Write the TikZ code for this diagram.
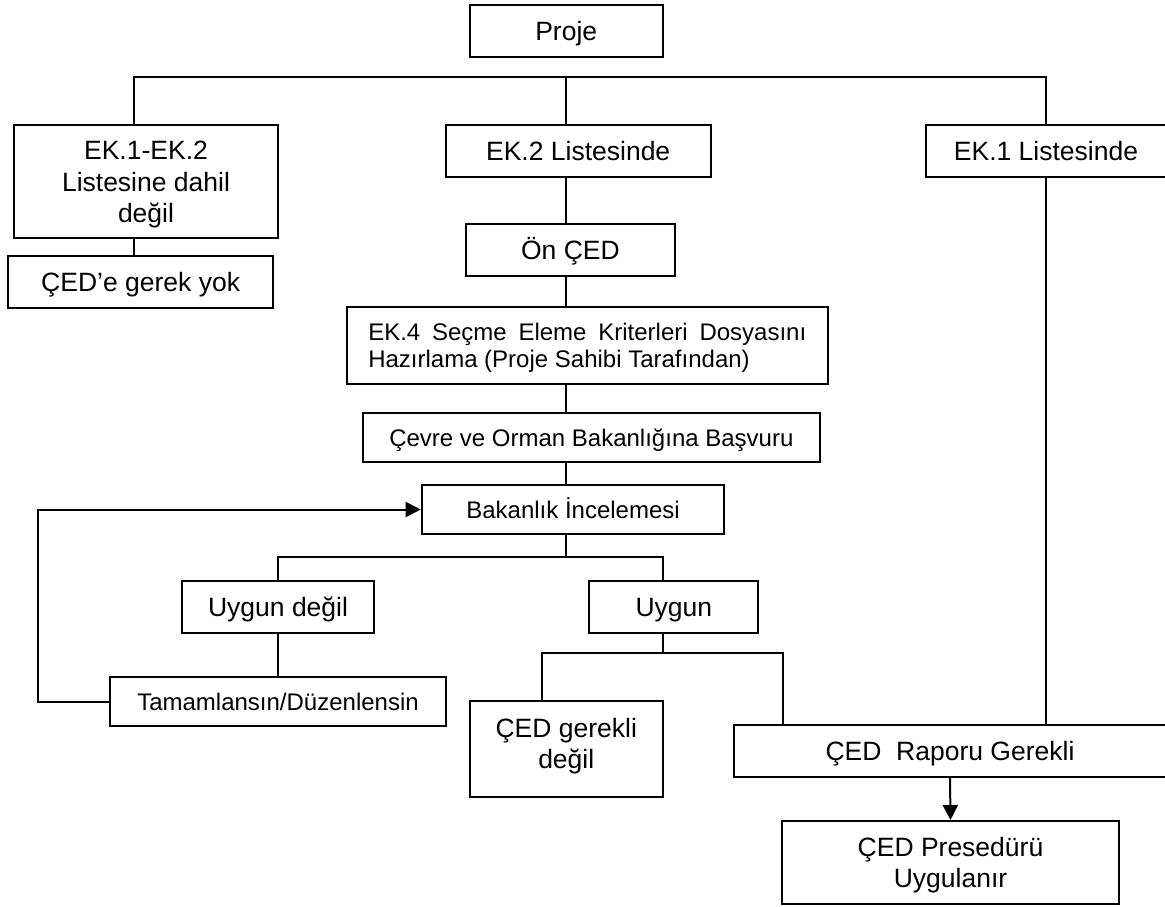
\documentclass[tikz,border=0pt]{standalone}
\usepackage{fontspec}
\setmainfont{Liberation Sans}
\usetikzlibrary{arrows.meta}
\newcommand\flowbig{\fontsize{26.5}{31.5}\selectfont}
\newcommand\flowsmall{\fontsize{24}{27.5}\selectfont}
\begin{document}
\begin{tikzpicture}[x=1pt,y=-1pt,
  stepbox/.style={draw, line width=2pt, inner sep=0pt, align=center, font=\flowbig,
    text height=19pt, text depth=0pt},
  smallbox/.style={stepbox, font=\flowsmall, text height=17.2pt},
  link/.style={line width=2pt},
  arr/.style={link, -{Triangle[length=15pt,width=15pt]}}]
\useasboundingbox (0,0) rectangle (1165,906);

% boxes (centre, width, height in pixels)
\node[stepbox, minimum width=192.5pt, minimum height=52pt] (proje) at (566.25,31) {Proje};
\node[stepbox, minimum width=264.4pt, minimum height=113pt, text height=82pt] (ekdis) at (146,181.5) {EK.1-EK.2\\Listesine dahil\\değil};
\node[stepbox, minimum width=264.5pt, minimum height=52pt] (gerekyok) at (140.65,282) {ÇED’e gerek yok};
\node[stepbox, minimum width=264.8pt, minimum height=52pt] (ek2) at (578.2,151) {EK.2 Listesinde};
\node[stepbox, minimum width=240pt, minimum height=52pt] (ek1) at (1046,151) {EK.1 Listesinde};
\node[stepbox, minimum width=208.7pt, minimum height=52pt] (onced) at (570.45,250) {Ön ÇED};
\node[smallbox, minimum width=481.1pt, minimum height=77pt, text depth=27.5pt] (ek4) at (587.25,345.5)
  {\parbox[t]{438pt}{\flowsmall\tolerance=9999\hyphenpenalty=10000 EK.4 Seçme Eleme Kriterleri Dosyasını Hazırlama (Proje Sahibi Tarafından)}};
\node[smallbox, minimum width=457.1pt, minimum height=49pt] (cevre) at (591.35,437.5) {Çevre ve Orman Bakanlığına Başvuru};
\node[smallbox, minimum width=302.7pt, minimum height=49pt] (bakanlik) at (573.05,509.5) {Bakanlık İncelemesi};
\node[stepbox, minimum width=192.5pt, minimum height=52pt] (uygundegil) at (278.05,607) {Uygun değil};
\node[stepbox, minimum width=169.1pt, minimum height=52pt] (uygun) at (673.85,607) {Uygun};
\node[smallbox, minimum width=336.4pt, minimum height=49pt] (tamam) at (278,701.5) {Tamamlansın/Düzenlensin};
\node[stepbox, minimum width=192.5pt, minimum height=96pt, text height=39pt] (cedgerekli) at (566.25,749) {ÇED gerekli\\değil};
\node[stepbox, minimum width=432.3pt, minimum height=52pt] (rapor) at (950,751) {ÇED\ \ Raporu Gerekli};
\node[stepbox, minimum width=336.6pt, minimum height=83pt, text height=50.5pt] (prosedur) at (950.5,862.5) {ÇED Presedürü\\Uygulanır};

% junction points of the tree lines
\coordinate (tL) at (134,77);
\coordinate (tM) at (566.4,77);
\coordinate (tR) at (1046,77);
\coordinate (bL) at (278.2,557);
\coordinate (bR) at (662.5,557);
\coordinate (uL) at (542.3,653);
\coordinate (uR) at (782.6,653);
\coordinate (loop) at (37.9,600);

% top level split
\draw[link] (tL |- ekdis.north) -- (tL) -- (tR) -- (ek1.north);
\draw[link] (tM) -- (tM |- ek2.north);
\draw[link] (tL |- ekdis.south) -- (tL |- gerekyok.north);

% EK.2 chain
\draw[link] (tM |- ek2.south) -- (tM |- onced.north);
\draw[link] (tM |- onced.south) -- (tM |- ek4.north);
\draw[link] (tM |- ek4.south) -- (tM |- cevre.north);
\draw[link] (tM |- cevre.south) -- (tM |- bakanlik.north);
\draw[link] (tM |- bakanlik.south) -- (tM |- bL);

% review outcome split
\draw[link] (bL |- uygundegil.north) -- (bL) -- (bR) -- (bR |- uygun.north);
\draw[link] (bL |- uygundegil.south) -- (bL |- tamam.north);
\draw[arr] (tamam.west) -- (loop |- tamam.west) -- (loop |- bakanlik.west) -- (bakanlik.west);

% suitable: split into the two results
\draw[link] (bR |- uygun.south) -- (bR |- uL);
\draw[link] (uL |- cedgerekli.north) -- (uL) -- (uR) -- (uR |- rapor.north);
\draw[link] (ek1.south) -- (tR |- rapor.north);
\draw[arr] (rapor.south) -- (prosedur.north);
\end{tikzpicture}
\end{document}
